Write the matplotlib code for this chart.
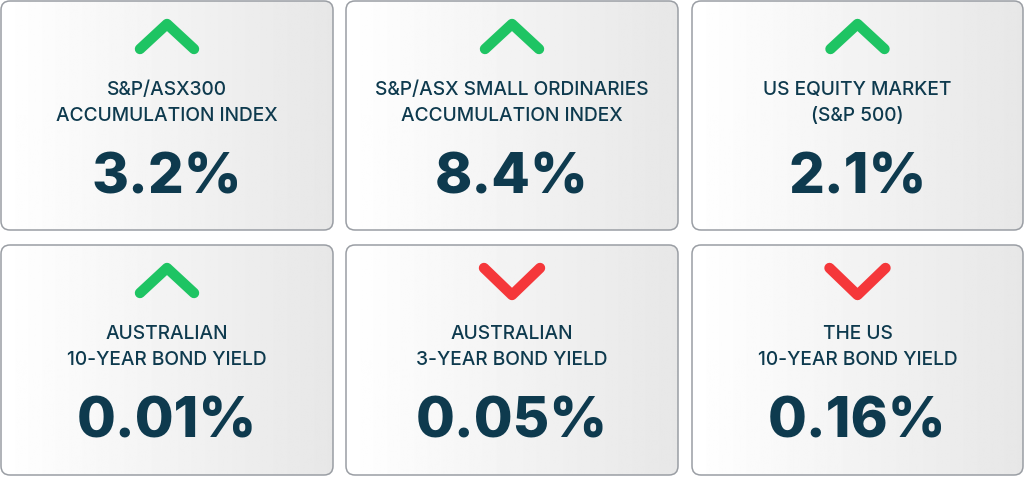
import matplotlib.pyplot as plt
import numpy as np
from matplotlib.patches import FancyBboxPatch

titles = [
    "S&P/ASX300\nACCUMULATION INDEX",
    "S&P/ASX SMALL ORDINARIES\nACCUMULATION INDEX",
    "US EQUITY MARKET\n(S&P 500)",
    "AUSTRALIAN\n10-YEAR BOND YIELD",
    "AUSTRALIAN\n3-YEAR BOND YIELD",
    "THE US\n10-YEAR BOND YIELD",
]
values = ["3.2%", "8.4%", "2.1%", "0.01%", "0.05%", "0.16%"]
direction = ["up", "up", "up", "up", "down", "down"]

GREEN = "#1ec463"
RED = "#f5373a"
TEXT = "#0e3a4e"

W, H = 1024, 491
fig = plt.figure(figsize=(W / 100, H / 100), dpi=100)
ax = fig.add_axes([0, 0, 1, 1])
ax.set_xlim(0, W)
ax.set_ylim(H, 0)
ax.axis("off")

col_x = [(1, 333), (346, 678), (692, 1023)]
row_y = [(1, 230), (245, 475)]

grad = np.linspace(1.0, 0.905, 256).reshape(1, -1)

for i, (t, v, d) in enumerate(zip(titles, values, direction)):
    x0, x1 = col_x[i % 3]
    y0, y1 = row_y[i // 3]
    cx = (x0 + x1) / 2
    box = FancyBboxPatch((x0, y0), x1 - x0, y1 - y0,
                         boxstyle="round,pad=0,rounding_size=9",
                         facecolor="none", edgecolor="#9a9ea4", lw=1.1, zorder=3)
    ax.add_patch(box)
    im = ax.imshow(grad, cmap="gray", vmin=0, vmax=1, aspect="auto",
                   extent=(x0, x1, y1, y0), zorder=1)
    im.set_clip_path(box)

    if d == "up":
        xs = [cx - 27, cx, cx + 27]
        ys = [y0 + 48, y0 + 23, y0 + 48]
        col = GREEN
    else:
        xs = [cx - 28, cx, cx + 28]
        ys = [y0 + 23, y0 + 50, y0 + 23]
        col = RED
    ax.plot(xs, ys, color=col, lw=7.5, solid_capstyle="round",
            solid_joinstyle="round", zorder=4)

    ax.text(cx, y0 + 102, t, ha="center", va="center", color=TEXT,
            fontsize=13.8, family="Inter", fontweight="medium",
            linespacing=1.62, zorder=5)
    ax.text(cx, y0 + 178, v, ha="center", va="center", color=TEXT,
            fontsize=40.5, family="Inter", fontweight="heavy", zorder=5)

fig.savefig("out.png", dpi=100)
